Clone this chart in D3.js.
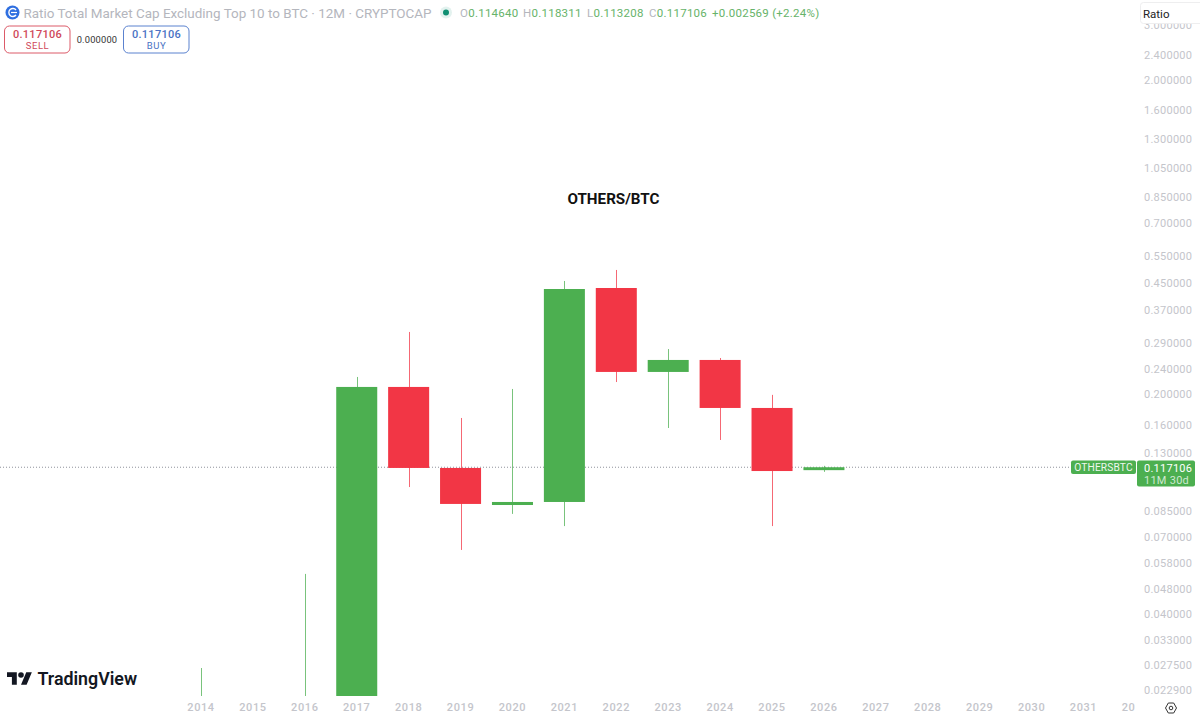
<!DOCTYPE html>
<html><head><meta charset="utf-8">
<script src="https://cdnjs.cloudflare.com/ajax/libs/d3/7.8.5/d3.min.js"></script>
<style>html,body{margin:0;padding:0;background:#fff;overflow:hidden}svg{display:block}text{font-family:Roboto,Inter,sans-serif}</style>
</head><body><svg id="c" width="1200" height="716"></svg>
<script>
const years  = [2014,2015,2016,2017,2018,2019,2020,2021,2022,2023,2024,2025,2026];
const opens  = [0.0080,0.0120,0.0160,0.0200,0.2109,0.1165,0.0888,0.0908,0.4354,0.2354,0.2570,0.1808,0.114640];
const highs  = [0.0269,0.0190,0.0536,0.2269,0.3155,0.1680,0.2078,0.4584,0.4969,0.2784,0.2607,0.1990,0.118311];
const lows   = [0.0060,0.0100,0.0120,0.0170,0.1013,0.0639,0.0832,0.0761,0.2186,0.1561,0.1430,0.0761,0.113208];
const closes = [0.0120,0.0160,0.0200,0.2109,0.1165,0.0895,0.0908,0.4322,0.2354,0.2570,0.1808,0.1139,0.117106];
const axisYears = [2014,2015,2016,2017,2018,2019,2020,2021,2022,2023,2024,2025,2026,2027,2028,2029,2030,2031,2032];
const priceTicks = [3.0,2.4,2.0,1.6,1.3,1.05,0.85,0.7,0.55,0.45,0.37,0.29,0.24,0.2,0.16,0.13,0.085,0.07,0.058,0.048,0.04,0.033,0.0275,0.0229];
const lastPrice = 0.117106;
const titleText = "OTHERS/BTC";
const symbolText = "Ratio Total Market Cap Excluding Top 10 to BTC · 12M · CRYPTOCAP";
const ohlcLabels = ["O","H","L","C"];
const ohlcValues = ["0.114640","0.118311","0.113208","0.117106"];
const changeText = "+0.002569 (+2.24%)";

const UP="#4CAF50", DOWN="#F23645", AXIS="#c4c5cb";
const svg=d3.select("#c");
const x=d3.scaleLinear().domain([2014,2031]).range([201,1083.5]);
const y=d3.scaleLog().domain([0.0229,2.4]).range([690,55]);
const bw=(x(1)-x(0))*0.79;
const defs=svg.append("defs");
defs.append("clipPath").attr("id","plot").append("rect").attr("x",0).attr("y",0).attr("width",1137).attr("height",696);
defs.append("clipPath").attr("id","xclip").append("rect").attr("x",0).attr("y",696).attr("width",1135).attr("height",20);

// last price line
svg.append("line").attr("x1",0).attr("x2",1071).attr("y1",y(lastPrice)).attr("y2",y(lastPrice))
  .attr("stroke","#8f929b").attr("stroke-width",1).attr("stroke-dasharray","1 2");

// candles
const g=svg.append("g").attr("clip-path","url(#plot)");
const idx=d3.range(years.length);
g.selectAll("line.w").data(idx).join("line").attr("class","w")
  .attr("x1",i=>Math.round(x(years[i]))+.5).attr("x2",i=>Math.round(x(years[i]))+.5)
  .attr("y1",i=>y(highs[i])).attr("y2",i=>y(lows[i]))
  .attr("stroke",i=>closes[i]>=opens[i]?UP:DOWN).attr("stroke-width",1).attr("stroke-opacity",.75);
g.selectAll("rect.b").data(idx).join("rect").attr("class","b")
  .attr("x",i=>x(years[i])-bw/2).attr("width",bw)
  .attr("y",i=>y(Math.max(opens[i],closes[i])))
  .attr("height",i=>Math.max(2.5,Math.abs(y(opens[i])-y(closes[i]))))
  .attr("fill",i=>closes[i]>=opens[i]?UP:DOWN);

// title
svg.append("text").attr("x",613.5).attr("y",203.5).attr("text-anchor","middle")
  .attr("font-size",15.2).attr("font-weight",700).attr("fill","#111").text(titleText);

// x axis
const xg=svg.append("g").attr("clip-path","url(#xclip)");
xg.selectAll("text").data(axisYears).join("text").attr("x",d=>x(d)).attr("y",711)
  .attr("text-anchor","middle").attr("font-size",11).attr("font-weight",500).attr("letter-spacing",.6).attr("fill",AXIS).text(d=>d);

// y axis
svg.append("g").selectAll("text").data(priceTicks).join("text").attr("x",1144).attr("y",d=>y(d)+4)
  .attr("font-size",11).attr("letter-spacing",.25).attr("fill",AXIS).text(d=>d.toFixed(6));

// ratio box
svg.append("rect").attr("x",1140.5).attr("y",2.5).attr("width",70).attr("height",21).attr("rx",3)
  .attr("fill","#fff").attr("stroke","#eeeeef");
svg.append("text").attr("x",1143).attr("y",17.5).attr("font-size",11.5).attr("fill","#222").text("Ratio");

// price labels
svg.append("rect").attr("x",1071).attr("y",460.5).attr("width",65).attr("height",13.5).attr("rx",2).attr("fill",UP);
svg.append("text").attr("x",1103.5).attr("y",471.2).attr("text-anchor","middle").attr("font-size",10.2).attr("letter-spacing",.15).attr("fill","#eef7ee").text("OTHERSBTC");
svg.append("rect").attr("x",1137).attr("y",460.5).attr("width",58).attr("height",26).attr("rx",2).attr("fill",UP);
svg.append("text").attr("x",1144).attr("y",471.5).attr("font-size",11).attr("letter-spacing",.25).attr("fill","#fff").text(lastPrice.toFixed(6));
svg.append("text").attr("x",1144).attr("y",483.5).attr("font-size",11).attr("letter-spacing",.25).attr("fill","#cfe8d0").text("11M 30d");

// header
svg.append("circle").attr("cx",12.5).attr("cy",12.5).attr("r",7).attr("fill","#2f6fe0");
svg.append("path").attr("d","M16 10a4 4 0 1 0 0 5").attr("fill","none").attr("stroke","#fff").attr("stroke-width",1.4);
svg.append("path").attr("d","M11 12.5h6").attr("stroke","#fff").attr("stroke-width",1.2);
svg.append("text").attr("x",23.5).attr("y",17.5).attr("font-size",13.45).attr("fill","#b4b6bd").text(symbolText);
svg.append("circle").attr("cx",446).attr("cy",12.5).attr("r",6).attr("fill","#e3f2ef");
svg.append("circle").attr("cx",446).attr("cy",12.5).attr("r",3).attr("fill","#0f8f72");

const ohlcX=[460,523,587,649];
ohlcLabels.forEach((l,i)=>{
  const t=svg.append("text").attr("x",ohlcX[i]).attr("y",17).attr("font-size",11.5).attr("letter-spacing",.25);
  t.append("tspan").attr("fill","#b4b6bd").text(l);
  t.append("tspan").attr("fill","#67b36a").text(ohlcValues[i]);
});
svg.append("text").attr("x",712).attr("y",17).attr("font-size",11.5).attr("letter-spacing",.25).attr("fill","#67b36a").text(changeText);

// sell / buy
function btn(bx,col,txtCol,val,lab){
  svg.append("rect").attr("x",bx).attr("y",26).attr("width",65.5).attr("height",27).attr("rx",5)
    .attr("fill","#fff").attr("stroke",col).attr("stroke-width",1);
  svg.append("text").attr("x",bx+33).attr("y",38).attr("text-anchor","middle").attr("font-size",11).attr("font-weight",500).attr("letter-spacing",.3).attr("fill",txtCol).text(val);
  svg.append("text").attr("x",bx+33).attr("y",49).attr("text-anchor","middle").attr("font-size",9.5).attr("letter-spacing",.5).attr("fill",txtCol).text(lab);
}
btn(4.5,"#dc5a68","#d0485a",lastPrice.toFixed(6),"SELL");
btn(123.5,"#5b82cf","#4a72c4",lastPrice.toFixed(6),"BUY");
svg.append("text").attr("x",97).attr("y",43).attr("text-anchor","middle").attr("font-size",9.3).attr("letter-spacing",.2).attr("fill","#333").text("0.000000");

// logo
const logo=svg.append("g").attr("transform","translate(7,669.4) scale(0.7)").attr("fill","#131722");
logo.append("path").attr("d","M14 22H7V11H0V4h14v18zM28 22h-8l7.5-18h8L28 22z");
logo.append("circle").attr("cx",20).attr("cy",8).attr("r",4);
svg.append("text").attr("x",37.5).attr("y",685).attr("font-size",17.8).attr("font-weight",600).attr("fill","#131722").text("TradingView");

// settings icon
svg.append("path").attr("d","M1165.5 708l2.8-5h5.4l2.8 5-2.8 5h-5.4z").attr("fill","none").attr("stroke","#333").attr("stroke-width",1);
svg.append("circle").attr("cx",1171).attr("cy",708).attr("r",1.8).attr("fill","none").attr("stroke","#333").attr("stroke-width",1);
</script></body></html>
